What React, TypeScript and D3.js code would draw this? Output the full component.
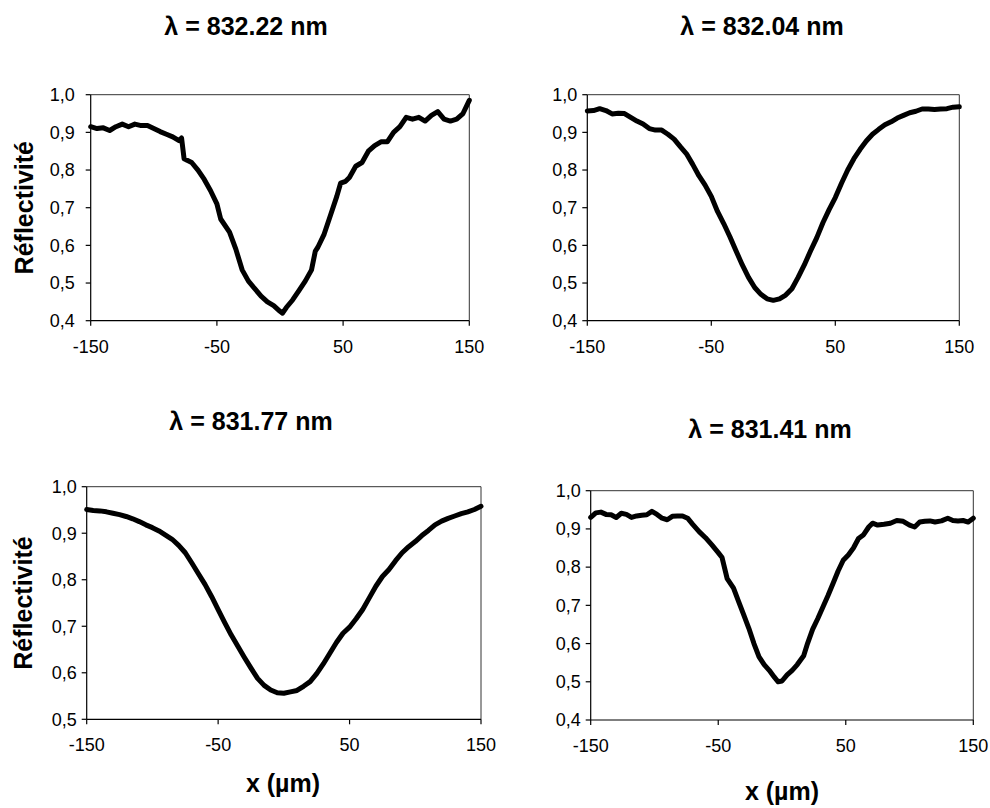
import React from 'react';
import * as d3 from 'd3';

// ---------- data ----------
const wavelengths = ['832.22', '832.04', '831.77', '831.41'];
const xTickValues = [-150, -50, 50, 150];
const yTicks04 = [0.4, 0.5, 0.6, 0.7, 0.8, 0.9, 1.0];
const yTicks05 = [0.5, 0.6, 0.7, 0.8, 0.9, 1.0];

const xs1 = [-150, -145, -140, -135, -130, -125, -120, -115, -110, -105, -100, -95, -90, -85, -80, -78, -76, -70, -65, -60, -55, -50, -47, -40, -35, -30, -25, -20, -15, -10, -5, 0, 2, 5, 10, 15, 20, 25, 28, 30, 35, 40, 45, 48, 52, 55, 60, 65, 70, 75, 80, 85, 90, 95, 100, 105, 110, 115, 120, 125, 130, 135, 140, 145, 150];
const refl1 = [0.915, 0.91, 0.912, 0.905, 0.915, 0.922, 0.915, 0.922, 0.918, 0.918, 0.91, 0.902, 0.895, 0.888, 0.878, 0.885, 0.83, 0.82, 0.8, 0.775, 0.745, 0.71, 0.67, 0.635, 0.59, 0.535, 0.505, 0.485, 0.465, 0.45, 0.44, 0.425, 0.42, 0.435, 0.455, 0.48, 0.505, 0.535, 0.585, 0.595, 0.63, 0.68, 0.73, 0.765, 0.77, 0.78, 0.81, 0.82, 0.85, 0.865, 0.875, 0.875, 0.9, 0.915, 0.94, 0.935, 0.94, 0.93, 0.945, 0.955, 0.935, 0.93, 0.935, 0.95, 0.985];

const xs2 = [-150, -145, -140, -135, -130, -125, -120, -115, -110, -105, -100, -95, -90, -85, -80, -75, -70, -65, -60, -55, -50, -45, -40, -35, -30, -25, -20, -15, -10, -5, 0, 5, 10, 15, 20, 25, 30, 35, 40, 45, 50, 55, 60, 65, 70, 75, 80, 85, 90, 95, 100, 105, 110, 115, 120, 125, 130, 135, 140, 145, 150];
const refl2 = [0.957, 0.958, 0.963, 0.958, 0.949, 0.951, 0.95, 0.94, 0.93, 0.922, 0.91, 0.906, 0.906, 0.895, 0.882, 0.862, 0.843, 0.815, 0.785, 0.76, 0.73, 0.69, 0.658, 0.623, 0.585, 0.548, 0.515, 0.488, 0.47, 0.458, 0.454, 0.458, 0.468, 0.485, 0.515, 0.548, 0.585, 0.62, 0.66, 0.695, 0.727, 0.765, 0.8, 0.83, 0.855, 0.877, 0.895, 0.908, 0.92, 0.928, 0.938, 0.945, 0.952, 0.956, 0.962, 0.962, 0.961, 0.962, 0.963, 0.967, 0.968];

const xs3 = xs2;
const refl3 = [0.951, 0.949, 0.948, 0.946, 0.943, 0.94, 0.936, 0.931, 0.925, 0.918, 0.912, 0.905, 0.896, 0.887, 0.874, 0.858, 0.836, 0.813, 0.79, 0.764, 0.736, 0.708, 0.681, 0.657, 0.633, 0.61, 0.588, 0.573, 0.563, 0.557, 0.556, 0.559, 0.562, 0.571, 0.581, 0.598, 0.619, 0.642, 0.665, 0.685, 0.698, 0.716, 0.736, 0.761, 0.786, 0.807, 0.822, 0.841, 0.858, 0.871, 0.882, 0.895, 0.906, 0.918, 0.926, 0.932, 0.937, 0.942, 0.946, 0.951, 0.958];

const xs4 = [-150, -146, -142, -138, -134, -130, -126, -122, -118, -114, -110, -106, -102, -98, -94, -90, -86, -82, -78, -74, -70, -65, -60, -55, -50, -47, -43, -38, -34, -30, -26, -22, -18, -14, -10, -6, -3, 0, 4, 8, 12, 17, 20, 24, 28, 32, 36, 40, 44, 48, 52, 56, 60, 64, 68, 71, 75, 80, 85, 90, 95, 100, 104, 108, 112, 116, 120, 125, 130, 134, 138, 142, 146, 150];
const refl4 = [0.93, 0.942, 0.944, 0.938, 0.937, 0.93, 0.941, 0.938, 0.93, 0.934, 0.936, 0.937, 0.946, 0.938, 0.928, 0.924, 0.933, 0.934, 0.934, 0.928, 0.912, 0.893, 0.877, 0.858, 0.838, 0.825, 0.77, 0.745, 0.71, 0.675, 0.64, 0.6, 0.565, 0.545, 0.53, 0.512, 0.5, 0.502, 0.518, 0.53, 0.545, 0.568, 0.6, 0.637, 0.665, 0.695, 0.725, 0.757, 0.79, 0.818, 0.832, 0.85, 0.875, 0.885, 0.905, 0.915, 0.91, 0.912, 0.915, 0.922, 0.92, 0.91, 0.905, 0.918, 0.92, 0.921, 0.918, 0.921, 0.928, 0.922, 0.921, 0.922, 0.918, 0.928];

// ---------- layout ----------
const panels = [
  { xs: xs1, ys: refl1, yTicks: yTicks04, left: 90.7, right: 469.3, top: 94.7, bottom: 320.7, titleX: 246, titleY: 35, yLabelX: 33, labelGap: 11, xTitle: null as null | { x: number; y: number } },
  { xs: xs2, ys: refl2, yTicks: yTicks04, left: 587.3, right: 959.3, top: 94.7, bottom: 320.7, titleX: 762, titleY: 35, yLabelX: null as null | number, labelGap: 5, xTitle: null },
  { xs: xs3, ys: refl3, yTicks: yTicks05, left: 86.7, right: 481, top: 486.7, bottom: 719.3, titleX: 251, titleY: 430, yLabelX: 32, labelGap: 5, xTitle: { x: 283, y: 792 } },
  { xs: xs4, ys: refl4, yTicks: yTicks04, left: 590.7, right: 973.3, top: 490.7, bottom: 720, titleX: 770, titleY: 438, yLabelX: null, labelGap: 5, xTitle: { x: 782, y: 800 } },
];

const FONT = 'Arial, "Liberation Sans", Helvetica, sans-serif';

function Panel({ p, i }: { p: any; i: number }) {
  const x = d3.scaleLinear().domain([-150, 150]).range([p.left, p.right]);
  const y = d3.scaleLinear().domain([p.yTicks[0], 1.0]).range([p.bottom, p.top]);
  const pts: [number, number][] = p.xs.map((v: number, k: number) => [v, p.ys[k]]);
  const line = d3.line<[number, number]>().x(d => x(d[0])).y(d => y(d[1]));
  const fmt = (v: number) => v.toFixed(1).replace('.', ',');
  return (
    <g>
      <text x={p.titleX} y={p.titleY} textAnchor="middle" fontFamily={FONT} fontWeight="bold" fontSize={25} fill="#000">
        λ = {wavelengths[i]} nm
      </text>
      {/* plot area border */}
      <line x1={p.left} x2={p.right} y1={p.top} y2={p.top} stroke="#333" strokeWidth={1} />
      <line x1={p.right} x2={p.right} y1={p.top} y2={p.bottom} stroke="#333" strokeWidth={1} />
      {/* axes */}
      <line x1={p.left} x2={p.left} y1={p.top} y2={p.bottom} stroke="#000" strokeWidth={1.2} />
      <line x1={p.left} x2={p.right} y1={p.bottom} y2={p.bottom} stroke="#000" strokeWidth={1.2} />
      {p.yTicks.map((t: number) => (
        <g key={'y' + t}>
          <line x1={p.left - 5} x2={p.left} y1={y(t)} y2={y(t)} stroke="#000" strokeWidth={1.2} />
          <text x={p.left - 5 - p.labelGap} y={y(t)} dy="0.35em" textAnchor="end" fontFamily={FONT} fontSize={18} fill="#000">
            {fmt(t)}
          </text>
        </g>
      ))}
      {xTickValues.map(t => (
        <g key={'x' + t}>
          <line x1={x(t)} x2={x(t)} y1={p.bottom} y2={p.bottom + 5} stroke="#000" strokeWidth={1.2} />
          <text x={x(t)} y={p.bottom + 32} textAnchor="middle" fontFamily={FONT} fontSize={18} fill="#000">
            {t}
          </text>
        </g>
      ))}
      <path d={line(pts) || ''} fill="none" stroke="#000" strokeWidth={5} strokeLinejoin="round" strokeLinecap="round" />
      {p.yLabelX !== null && (
        <text transform={`translate(${p.yLabelX},${(p.top + p.bottom) / 2}) rotate(-90)`} textAnchor="middle" fontFamily={FONT} fontWeight="bold" fontSize={25} fill="#000">
          Réflectivité
        </text>
      )}
      {p.xTitle && (
        <text x={p.xTitle.x} y={p.xTitle.y} textAnchor="middle" fontFamily={FONT} fontWeight="bold" fontSize={25} fill="#000">
          x (µm)
        </text>
      )}
    </g>
  );
}

export default function App() {
  return (
    <svg width={990} height={808} style={{ position: 'absolute', left: 0, top: 0, background: '#fff' }}>
      <rect width={990} height={808} fill="#fff" />
      {panels.map((p, i) => (
        <Panel key={i} p={p} i={i} />
      ))}
    </svg>
  );
}
